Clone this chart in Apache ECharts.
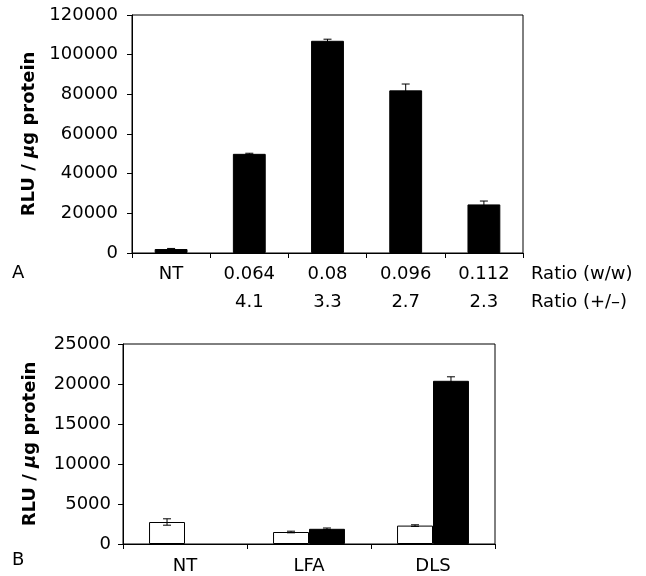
<!DOCTYPE html>
<html>
<head>
<meta charset="utf-8">
<script src="https://cdn.jsdelivr.net/npm/echarts@6/dist/echarts.min.js"></script>
<style>
html,body{margin:0;padding:0;background:#fff;}
#chart{width:646px;height:576px;}
</style>
</head>
<body>
<div id="chart"></div>
<script>
// ---- Panel A data ----
const categoriesA = ["NT", "0.064", "0.08", "0.096", "0.112"];
const ratioPM = ["", "4.1", "3.3", "2.7", "2.3"];
const valuesA = [2000, 50000, 107000, 82000, 24500];
const errorsA = [300, 300, 800, 3200, 1700];
const yTicksA = [0, 20000, 40000, 60000, 80000, 100000, 120000];

// ---- Panel B data ----
const categoriesB = ["NT", "LFA", "DLS"];
const valuesBWhite = [2750, 1500, 2300];
const errorsBWhite = [400, 100, 100];
const valuesBBlack = [null, 1900, 20400];
const errorsBBlack = [null, 100, 500];
const yTicksB = [0, 5000, 10000, 15000, 20000, 25000];

const FONT = "DejaVu Sans";
const chart = echarts.init(document.getElementById('chart'), null, {renderer: 'canvas'});

function errRender(params, api) {
  const v = api.value(1);
  const e = api.value(2);
  if (v == null || isNaN(v) || e == null || isNaN(e)) return null;
  const band = api.size([1, 0])[0];
  const off = api.value(3) * band;
  const top = api.coord([api.value(0), v + e]);
  const bot = api.coord([api.value(0), v - e]);
  const x = top[0] + off;
  const cap = 4;
  const st = {stroke: '#000', lineWidth: 1};
  return {
    type: 'group',
    children: [
      {type: 'line', shape: {x1: x, y1: top[1], x2: x, y2: bot[1]}, style: st},
      {type: 'line', shape: {x1: x - cap, y1: top[1], x2: x + cap, y2: top[1]}, style: st},
      {type: 'line', shape: {x1: x - cap, y1: bot[1], x2: x + cap, y2: bot[1]}, style: st}
    ]
  };
}

const axisTitle = {
  name: 'RLU / {i|μ}g protein',
  nameLocation: 'middle',
  nameRotate: 90,
  nameTextStyle: {
    fontFamily: FONT, fontWeight: 'bold', fontSize: 18, color: '#000',
    rich: {i: {fontFamily: FONT, fontWeight: 'bold', fontStyle: 'italic', fontSize: 18, color: '#000'}}
  }
};

const plain = v => String(v);

const errDataA = valuesA.map((v, i) => [i, v, errorsA[i], 0]);
const errDataBW = valuesBWhite.map((v, i) => [i, v, errorsBWhite[i], -0.145]);
const errDataBB = valuesBBlack.map((v, i) => [i, v, errorsBBlack[i], 0.145]);

const option = {
  backgroundColor: '#fff',
  animation: false,
  textStyle: {fontFamily: FONT},
  grid: [
    {left: 132, top: 15, width: 391, height: 238, show: true, borderColor: '#000', borderWidth: 1},
    {left: 123, top: 344, width: 372, height: 200, show: true, borderColor: '#000', borderWidth: 1}
  ],
  xAxis: [
    {
      gridIndex: 0, type: 'category', data: categoriesA,
      axisLine: {lineStyle: {color: '#000', width: 1}},
      axisTick: {show: true, length: 5, lineStyle: {color: '#000'}},
      axisLabel: {
        color: '#000', fontFamily: FONT, fontSize: 18, lineHeight: 28, margin: 7,
        formatter: (val, idx) => val + '\n' + ratioPM[idx]
      },
      name: 'Ratio (w/w)\nRatio (+/–)',
      nameLocation: 'end',
      nameGap: 8,
      nameTextStyle: {color: '#000', fontFamily: FONT, fontSize: 18, lineHeight: 28, verticalAlign: 'top', align: 'left', padding: [7, 0, 0, 0]}
    },
    {
      gridIndex: 1, type: 'category', data: categoriesB,
      axisLine: {lineStyle: {color: '#000', width: 1}},
      axisTick: {show: true, length: 5, lineStyle: {color: '#000'}},
      axisLabel: {color: '#000', fontFamily: FONT, fontSize: 18, lineHeight: 20, margin: 12}
    }
  ],
  yAxis: [
    Object.assign({}, axisTitle, {
      gridIndex: 0, type: 'value', min: yTicksA[0], max: yTicksA[yTicksA.length - 1],
      interval: yTicksA[1] - yTicksA[0], nameGap: 91,
      splitLine: {show: false},
      axisLine: {show: true, lineStyle: {color: '#000', width: 1}},
      axisTick: {show: true, length: 5, lineStyle: {color: '#000'}},
      axisLabel: {color: '#000', fontFamily: FONT, fontSize: 18, margin: 14, formatter: plain}
    }),
    Object.assign({}, axisTitle, {
      gridIndex: 1, type: 'value', min: yTicksB[0], max: yTicksB[yTicksB.length - 1],
      interval: yTicksB[1] - yTicksB[0], nameGap: 84,
      splitLine: {show: false},
      axisLine: {show: true, lineStyle: {color: '#000', width: 1}},
      axisTick: {show: true, length: 5, lineStyle: {color: '#000'}},
      axisLabel: {color: '#000', fontFamily: FONT, fontSize: 18, margin: 12, formatter: plain}
    })
  ],
  series: [
    {
      type: 'bar', xAxisIndex: 0, yAxisIndex: 0, data: valuesA, barWidth: '42%',
      itemStyle: {color: '#000', borderColor: '#000', borderWidth: 1}
    },
    {
      type: 'custom', xAxisIndex: 0, yAxisIndex: 0, data: errDataA, renderItem: errRender, z: 5,
      encode: {x: 0, y: 1}
    },
    {
      type: 'bar', xAxisIndex: 1, yAxisIndex: 1, data: valuesBWhite, barWidth: '29%', barGap: '0%',
      itemStyle: {color: '#fff', borderColor: '#000', borderWidth: 1}
    },
    {
      type: 'bar', xAxisIndex: 1, yAxisIndex: 1, data: valuesBBlack, barWidth: '29%', barGap: '0%',
      itemStyle: {color: '#000', borderColor: '#000', borderWidth: 1}
    },
    {
      type: 'custom', xAxisIndex: 1, yAxisIndex: 1, data: errDataBW, renderItem: errRender, z: 5,
      encode: {x: 0, y: 1}
    },
    {
      type: 'custom', xAxisIndex: 1, yAxisIndex: 1, data: errDataBB, renderItem: errRender, z: 5,
      encode: {x: 0, y: 1}
    }
  ],
  graphic: [
    {type: 'text', left: 12, top: 264, style: {text: 'A', fontFamily: FONT, fontSize: 18, fill: '#000'}},
    {type: 'text', left: 12, top: 551, style: {text: 'B', fontFamily: FONT, fontSize: 18, fill: '#000'}}
  ]
};
chart.setOption(option);
</script>
</body>
</html>
